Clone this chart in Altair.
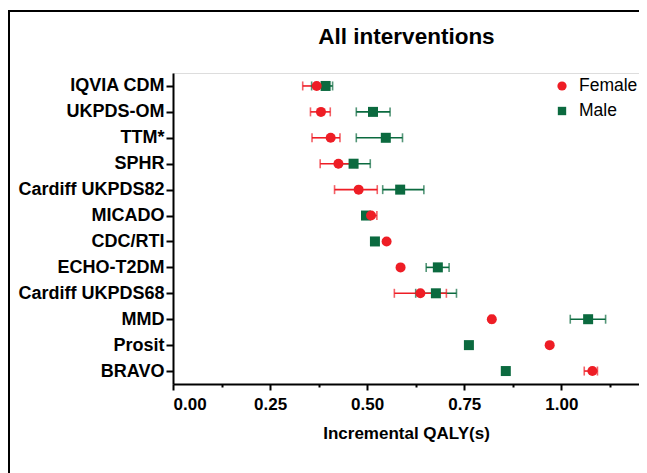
import altair as alt
import pandas as pd

models = ["IQVIA CDM", "UKPDS-OM", "TTM*", "SPHR", "Cardiff UKPDS82", "MICADO",
          "CDC/RTI", "ECHO-T2DM", "Cardiff UKPDS68", "MMD", "Prosit", "BRAVO"]
female = [0.370, 0.381, 0.406, 0.426, 0.478, 0.510, 0.550, 0.586, 0.637, 0.821, 0.970, 1.080]
female_lo = [0.334, 0.354, 0.358, 0.379, 0.416, 0.499, None, None, 0.570, 0.816, None, 1.059]
female_hi = [0.389, 0.405, 0.430, 0.473, 0.526, 0.525, None, None, 0.704, 0.826, None, 1.093]
male = [0.393, 0.515, 0.548, 0.465, 0.585, 0.497, 0.520, 0.682, 0.677, 1.069, 0.762, 0.857]
male_lo = [0.357, 0.472, 0.472, 0.425, 0.540, 0.490, None, 0.652, 0.625, 1.023, None, None]
male_hi = [0.411, 0.559, 0.591, 0.508, 0.646, 0.505, None, 0.711, 0.730, 1.114, None, None]

x_ticks = [0, 0.125, 0.25, 0.375, 0.5, 0.625, 0.75, 0.875, 1.0, 1.125]
title_text = "All interventions"
legend_labels = ["Female", "Male"]

rows = []
for i, m in enumerate(models):
    rows.append({"model": m, "sex": "Male", "v": male[i], "lo": male_lo[i], "hi": male_hi[i]})
for i, m in enumerate(models):
    rows.append({"model": m, "sex": "Female", "v": female[i], "lo": female_lo[i], "hi": female_hi[i]})
df = pd.DataFrame(rows)

FONT = "Liberation Sans"
RED = "#EE1D25"
GREEN = "#0B6A3F"

color_scale = alt.Scale(domain=legend_labels, range=[RED, GREEN])
shape_scale = alt.Scale(domain=legend_labels, range=["circle", "square"])

major = "abs(round(datum.value*4) - datum.value*4) < 1e-6"

x_enc = alt.X(
    "v:Q",
    scale=alt.Scale(domain=[0, 1.2], nice=False, zero=True),
    axis=alt.Axis(
        title="Incremental QALY(s)",
        values=x_ticks,
        labelExpr=f"{major} ? format(datum.value, '.2f') : ''",
        tickSize={"condition": {"test": major, "value": 6}, "value": 3},
        tickWidth=2,
        tickColor="black",
        domainColor="black",
        domainWidth=2,
        labelFont=FONT, labelFontSize=17, labelFontWeight="bold", labelColor="black",
        labelPadding=6,
        titleFont=FONT, titleFontSize=17, titleFontWeight="bold", titleColor="black",
        titlePadding=13,
        grid=False,
    ),
)
y_enc = alt.Y(
    "model:N",
    sort=models,
    scale=alt.Scale(domain=models, type="point", padding=0.5),
    axis=alt.Axis(
        title=None,
        tickSize=7, tickWidth=2, tickColor="black",
        domainColor="black", domainWidth=2,
        labelFont=FONT, labelFontSize=18, labelFontWeight="bold", labelColor="black",
        labelPadding=2, grid=False,
    ),
)

base = alt.Chart(df)

err_rule = base.transform_filter("isValid(datum.lo)").mark_rule(strokeWidth=1.6).encode(
    x=alt.X("lo:Q", scale=alt.Scale(domain=[0, 1.2], nice=False)),
    x2="hi:Q",
    y=alt.Y("model:N", sort=models),
    stroke=alt.Stroke("sex:N", scale=color_scale, legend=None),
)
err_caps = base.transform_filter("isValid(datum.lo)").transform_fold(
    ["lo", "hi"], as_=["end", "ev"]
).mark_tick(thickness=1.6, size=9, orient="vertical").encode(
    x=alt.X("ev:Q"),
    y=alt.Y("model:N", sort=models),
    fill=alt.Fill("sex:N", scale=color_scale, legend=None),
)
points = base.mark_point(filled=True, opacity=1, size=100).encode(
    x=x_enc,
    y=y_enc,
    color=alt.Color("sex:N", scale=color_scale, legend=None),
    shape=alt.Shape("sex:N", scale=shape_scale, legend=None),
    order=alt.Order("sex:N", sort="descending"),
)

one = alt.Data(values=[{"a": 1}])
frame_left = alt.Chart(one).mark_rule(color="black", strokeWidth=2).encode(
    x=alt.value(-164), y=alt.value(-62), y2=alt.value(410)
)
frame_top = alt.Chart(one).mark_rule(color="black", strokeWidth=2).encode(
    x=alt.value(-165), x2=alt.value(466), y=alt.value(-62)
)
title = alt.Chart(one).mark_text(
    font=FONT, fontSize=22.5, fontWeight="bold", color="black", align="center", baseline="alphabetic"
).encode(x=alt.value(233.5), y=alt.value(-29), text=alt.value(title_text))

leg_layers = []
for lab, shp, col, yy, sz in [(legend_labels[0], "circle", RED, 13, 85),
                              (legend_labels[1], "square", GREEN, 38, 70)]:
    leg_layers.append(alt.Chart(one).mark_point(filled=True, opacity=1, shape=shp, color=col, size=sz)
                      .encode(x=alt.value(389), y=alt.value(yy)))
    leg_layers.append(alt.Chart(one).mark_text(font=FONT, fontSize=17.5, color="black",
                                               align="left", baseline="middle")
                      .encode(x=alt.value(406), y=alt.value(yy), text=alt.value(lab)))

chart = alt.layer(frame_left, frame_top, title, err_rule, err_caps, points, *leg_layers).properties(
    width=466,
    height=311,
    autosize=alt.AutoSizeParams(type="none"),
    padding={"left": 165, "top": 65, "right": 0, "bottom": 89},
).configure_view(stroke=None).configure(background="white")

chart.save("out.html", embed_options={"renderer": "svg", "actions": False})
